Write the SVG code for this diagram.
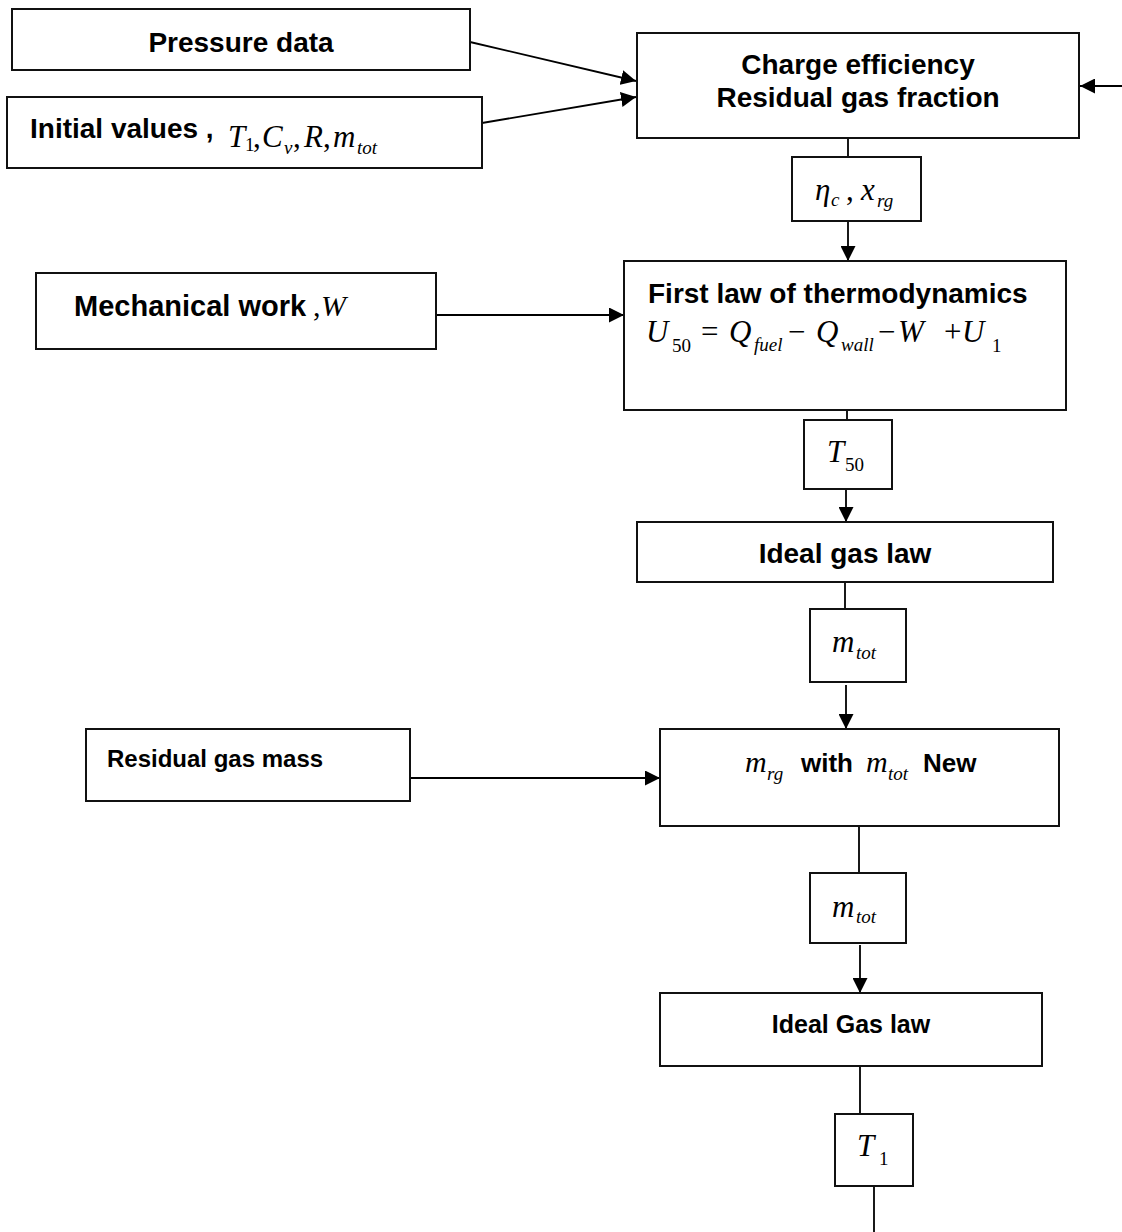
<svg xmlns="http://www.w3.org/2000/svg" width="1122" height="1232" viewBox="0 0 1122 1232">
<style>
.box{fill:#fff;stroke:#111;stroke-width:2}
.b{font-family:"Liberation Sans",Arial,sans-serif;font-weight:bold;fill:#000}
.m{font-family:"Liberation Serif","Times New Roman",serif;font-style:italic;fill:#000}
.r{font-family:"Liberation Serif","Times New Roman",serif;font-style:normal;fill:#000}
.ln{stroke:#000;stroke-width:1.8;fill:none}
.ar{stroke:#000;stroke-width:1.8;fill:none;marker-end:url(#ah)}
</style>
<defs>
<marker id="ah" markerUnits="userSpaceOnUse" markerWidth="15" markerHeight="15" refX="15" refY="7.5" orient="auto">
<path d="M0,0 L15,7.5 L0,15 Z" fill="#000"/>
</marker>
</defs>
<rect width="1122" height="1232" fill="#fff"/>

<g id="connectors">
<line class="ar" x1="470" y1="42" x2="636" y2="81"/>
<line class="ar" x1="482" y1="123" x2="636" y2="97"/>
<line class="ar" x1="1122" y1="86" x2="1080" y2="86"/>
<line class="ln" x1="848" y1="138" x2="848" y2="157"/>
<line class="ar" x1="848" y1="221" x2="848" y2="261"/>
<line class="ar" x1="432" y1="315" x2="624" y2="315"/>
<line class="ln" x1="847" y1="410" x2="847" y2="420"/>
<line class="ar" x1="846" y1="489" x2="846" y2="522"/>
<line class="ln" x1="845" y1="582" x2="845" y2="609"/>
<line class="ar" x1="846" y1="685" x2="846" y2="729"/>
<line class="ar" x1="410" y1="778" x2="660" y2="778"/>
<line class="ln" x1="859" y1="826" x2="859" y2="873"/>
<line class="ar" x1="860" y1="945" x2="860" y2="993"/>
<line class="ln" x1="860" y1="1066" x2="860" y2="1114"/>
<line class="ln" x1="874" y1="1186" x2="874" y2="1232"/>
</g>

<g id="pressure-data">
<rect class="box" x="12" y="9" width="458" height="61"/>
<text class="b" x="241" y="52" font-size="28" text-anchor="middle">Pressure data</text>
</g>

<g id="initial-values">
<rect class="box" x="7" y="97" width="475" height="71"/>
<text class="b" x="30" y="138" font-size="28">Initial values ,</text>
<text class="m" font-size="31" y="147">
<tspan x="228">T</tspan><tspan class="r" x="245" y="151" font-size="19">1</tspan><tspan class="r" x="253" y="147">,</tspan><tspan x="262">C</tspan><tspan x="284" y="154" font-size="19">v</tspan><tspan class="r" x="293" y="147">,</tspan><tspan x="304">R</tspan><tspan class="r" x="323">,</tspan><tspan x="333">m</tspan><tspan x="357" y="154" font-size="19">tot</tspan>
</text>
</g>

<g id="charge-efficiency">
<rect class="box" x="637" y="33" width="442" height="105"/>
<text class="b" x="858" y="74" font-size="28" text-anchor="middle">Charge efficiency</text>
<text class="b" x="858" y="107" font-size="28" text-anchor="middle">Residual gas fraction</text>
</g>

<g id="eta-xrg">
<rect class="box" x="792" y="157" width="129" height="64"/>
<text class="m" font-size="31" y="200">
<tspan x="815">η</tspan><tspan x="831" y="206" font-size="19">c</tspan><tspan class="r" x="846" y="200">,</tspan><tspan x="861">x</tspan><tspan x="877" y="207" font-size="19">rg</tspan>
</text>
</g>

<g id="mechanical-work">
<rect class="box" x="36" y="273" width="400" height="76"/>
<text class="b" x="74" y="316" font-size="29">Mechanical work</text>
<text class="m" font-size="30" y="316"><tspan class="r" x="313">,</tspan><tspan x="321">W</tspan></text>
</g>

<g id="first-law">
<rect class="box" x="624" y="261" width="442" height="149"/>
<text class="b" x="648" y="303" font-size="28">First law of thermodynamics</text>
<text class="m" font-size="31" y="342">
<tspan x="646">U</tspan><tspan class="r" x="672" y="352" font-size="19">50</tspan><tspan class="r" x="701" y="342">=</tspan><tspan x="729">Q</tspan><tspan x="754" y="351" font-size="19">fuel</tspan><tspan class="r" x="788" y="342">−</tspan><tspan x="816">Q</tspan><tspan x="841" y="351" font-size="19">wall</tspan><tspan class="r" x="878" y="342">−</tspan><tspan x="898">W</tspan><tspan class="r" x="944">+</tspan><tspan x="962">U</tspan><tspan class="r" x="992" y="352" font-size="19">1</tspan>
</text>
</g>

<g id="t50">
<rect class="box" x="804" y="420" width="88" height="69"/>
<text class="m" font-size="31" y="462"><tspan x="827">T</tspan><tspan class="r" x="845" y="471" font-size="19">50</tspan></text>
</g>

<g id="ideal-gas-law-1">
<rect class="box" x="637" y="522" width="416" height="60"/>
<text class="b" x="845" y="563" font-size="28" text-anchor="middle">Ideal gas law</text>
</g>

<g id="mtot-1">
<rect class="box" x="810" y="609" width="96" height="73"/>
<text class="m" font-size="31" y="652"><tspan x="832">m</tspan><tspan x="856" y="659" font-size="19">tot</tspan></text>
</g>

<g id="residual-gas-mass">
<rect class="box" x="86" y="729" width="324" height="72"/>
<text class="b" x="107" y="767" font-size="24">Residual gas mass</text>
</g>

<g id="mrg-new">
<rect class="box" x="660" y="729" width="399" height="97"/>
<text class="m" font-size="30" y="772"><tspan x="745">m</tspan><tspan x="767" y="780" font-size="19">rg</tspan></text>
<text class="b" x="801" y="772" font-size="26">with</text>
<text class="m" font-size="30" y="772"><tspan x="866">m</tspan><tspan x="888" y="780" font-size="19">tot</tspan></text>
<text class="b" x="923" y="772" font-size="26">New</text>
</g>

<g id="mtot-2">
<rect class="box" x="810" y="873" width="96" height="70"/>
<text class="m" font-size="31" y="917"><tspan x="832">m</tspan><tspan x="856" y="923" font-size="19">tot</tspan></text>
</g>

<g id="ideal-gas-law-2">
<rect class="box" x="660" y="993" width="382" height="73"/>
<text class="b" x="851" y="1033" font-size="25" text-anchor="middle">Ideal Gas law</text>
</g>

<g id="t1">
<rect class="box" x="835" y="1114" width="78" height="72"/>
<text class="m" font-size="31" y="1156"><tspan x="857">T</tspan><tspan class="r" x="879" y="1165" font-size="19">1</tspan></text>
</g>
</svg>
